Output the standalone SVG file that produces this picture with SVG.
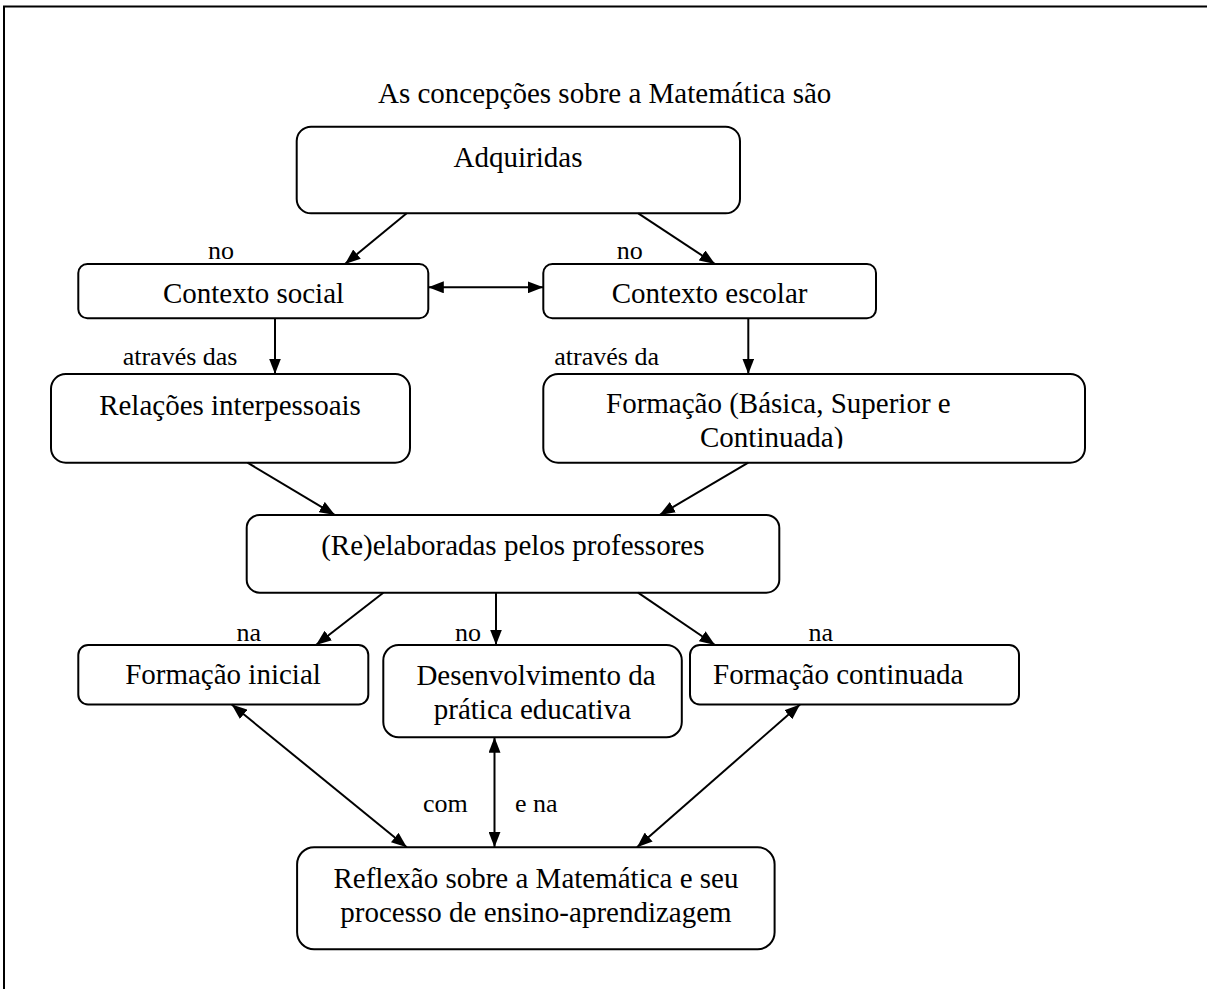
<svg xmlns="http://www.w3.org/2000/svg" width="1207" height="989" viewBox="0 0 1207 989">
<style>
.box{fill:#fff;stroke:#000;stroke-width:2}
.t{font-family:"Liberation Serif","Times New Roman",serif;font-size:29px;fill:#000}
.l{font-family:"Liberation Serif","Times New Roman",serif;font-size:26px;fill:#000}
.c{text-anchor:middle}
.e{fill:none;stroke:#000;stroke-width:2}
.a{marker-end:url(#ah)}
.d{marker-start:url(#ah);marker-end:url(#ah)}
</style>
<defs>
<marker id="ah" markerUnits="userSpaceOnUse" markerWidth="16" markerHeight="12" refX="15.5" refY="6" orient="auto-start-reverse">
<path d="M0,0 L15.5,6 L0,12 z" fill="#000"/>
</marker>
<clipPath id="clipF"><rect x="543" y="374" width="545" height="74.5"/></clipPath>
</defs>
<rect width="1207" height="989" fill="#fff"/>
<g id="frame"><path d="M4,989 V6.5 H1207" fill="none" stroke="#000" stroke-width="2"/></g>
<g id="title"><text class="t" x="378" y="103">As concepções sobre a Matemática são</text></g>
<g id="adquiridas"><rect class="box" x="296.7" y="126.7" width="443.3" height="86.6" rx="14.4"/><text class="t c" x="518" y="167">Adquiridas</text></g>
<g id="contexto-social"><rect class="box" x="78.3" y="264" width="350" height="54.3" rx="9"/><text class="t c" x="253.5" y="302.7">Contexto social</text></g>
<g id="contexto-escolar"><rect class="box" x="543.3" y="264" width="332.7" height="54.3" rx="9"/><text class="t c" x="709.6" y="303">Contexto escolar</text></g>
<g id="relacoes"><rect class="box" x="51" y="374" width="359" height="88.7" rx="14.8"/><text class="t c" x="230" y="415">Relações interpessoais</text></g>
<g id="formacao"><rect class="box" x="543.3" y="374" width="541.7" height="88.7" rx="14.8"/><g clip-path="url(#clipF)"><text class="t" x="606" y="413.3">Formação (Básica, Superior e</text><text class="t" x="700" y="446.7">Continuada)</text></g></g>
<g id="reelaboradas"><rect class="box" x="246.7" y="515" width="532.6" height="77.7" rx="13"/><text class="t c" x="512.8" y="555">(Re)elaboradas pelos professores</text></g>
<g id="formacao-inicial"><rect class="box" x="78.3" y="645" width="290" height="59.5" rx="9.8"/><text class="t c" x="223" y="684">Formação inicial</text></g>
<g id="desenvolvimento"><rect class="box" x="383.3" y="645" width="298.5" height="92.3" rx="15.4"/><text class="t c" x="536" y="685">Desenvolvimento da</text><text class="t c" x="532.4" y="718.5">prática educativa</text></g>
<g id="formacao-continuada"><rect class="box" x="690" y="645" width="329" height="59.5" rx="9.8"/><text class="t" x="713" y="684">Formação continuada</text></g>
<g id="reflexao"><rect class="box" x="297.1" y="847.3" width="477.5" height="102" rx="17"/><text class="t c" x="536" y="888.3">Reflexão sobre a Matemática e seu</text><text class="t c" x="536" y="921.7">processo de ensino-aprendizagem</text></g>
<g id="connectors">
<line class="e a" x1="406.7" y1="213.3" x2="345" y2="264"/>
<line class="e a" x1="638.3" y1="213.3" x2="715" y2="264"/>
<line class="e d" x1="428.3" y1="287.3" x2="543.3" y2="287.3"/>
<line class="e a" x1="275" y1="318.3" x2="275" y2="374"/>
<line class="e a" x1="748.3" y1="318.3" x2="748.3" y2="374"/>
<line class="e a" x1="247.5" y1="462.7" x2="335" y2="515"/>
<line class="e a" x1="748.3" y1="462.7" x2="659.5" y2="515"/>
<line class="e a" x1="383.3" y1="592.7" x2="316" y2="645"/>
<line class="e a" x1="496" y1="592.7" x2="496" y2="645"/>
<line class="e a" x1="638" y1="592.7" x2="715" y2="645"/>
<line class="e d" x1="231.7" y1="704.5" x2="406.8" y2="847.3"/>
<line class="e d" x1="494.5" y1="737.3" x2="494.5" y2="847.3"/>
<line class="e d" x1="800" y1="704.5" x2="637" y2="847.3"/>
</g>
<g id="labels">
<text class="l" x="208" y="259.3">no</text>
<text class="l" x="616.7" y="259">no</text>
<text class="l" x="122.7" y="365">através das</text>
<text class="l" x="554.3" y="365">através da</text>
<text class="l" x="236.5" y="641">na</text>
<text class="l" x="455" y="641">no</text>
<text class="l" x="808.5" y="641">na</text>
<text class="l" x="423" y="811.7">com</text>
<text class="l" x="515" y="811.7">e na</text>
</g>
</svg>
